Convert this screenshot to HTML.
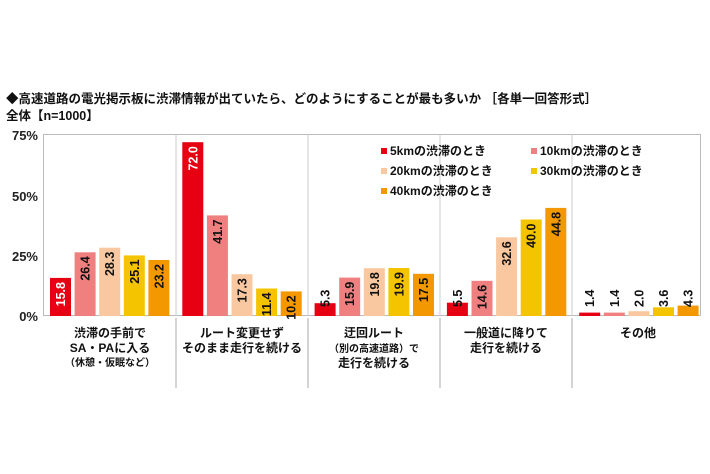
<!DOCTYPE html><html><head><meta charset="utf-8"><style>
html,body{margin:0;padding:0;background:#fff;width:710px;height:474px;overflow:hidden}
svg{font-family:"Liberation Sans","Noto Sans CJK JP",sans-serif;font-weight:bold}
</style></head><body>
<svg width="710" height="474" xmlns="http://www.w3.org/2000/svg">
<text x="6" y="103" font-size="12.5" fill="#111">◆高速道路の電光掲示板に渋滞情報が出ていたら、どのようにすることが最も多いか ［各単一回答形式］</text>
<text x="6" y="120" font-size="12.5" fill="#111">全体【n=1000】</text>
<rect x="43.5" y="134.5" width="657" height="181" fill="none" stroke="#bbb" stroke-width="1"/>
<g stroke="#ccc" stroke-width="1">
<line x1="176" y1="134" x2="176" y2="316"/><line x1="308" y1="134" x2="308" y2="316"/><line x1="440" y1="134" x2="440" y2="316"/><line x1="572" y1="134" x2="572" y2="316"/>
</g>
<g stroke="#aaa" stroke-width="1">
<line x1="176" y1="318" x2="176" y2="388"/><line x1="308" y1="318" x2="308" y2="388"/><line x1="440" y1="318" x2="440" y2="388"/><line x1="572" y1="318" x2="572" y2="388"/>
</g>
<g font-size="13" fill="#222" text-anchor="end">
<text x="38" y="140">75%</text><text x="38" y="201">50%</text><text x="38" y="261">25%</text><text x="38" y="321">0%</text>
</g>
<g>
<rect x="50" y="277.9" width="21" height="38.1" fill="#e60012"/>
<rect x="74.6" y="252.3" width="21" height="63.7" fill="#f08080"/>
<rect x="99.2" y="247.7" width="21" height="68.3" fill="#f9c8a0"/>
<rect x="123.8" y="255.4" width="21" height="60.6" fill="#f5c400"/>
<rect x="148.4" y="260" width="21" height="56" fill="#f39800"/>
<rect x="182.3" y="142.2" width="21" height="173.8" fill="#e60012"/>
<rect x="206.9" y="215.4" width="21" height="100.6" fill="#f08080"/>
<rect x="231.5" y="274.2" width="21" height="41.8" fill="#f9c8a0"/>
<rect x="256.1" y="288.5" width="21" height="27.5" fill="#f5c400"/>
<rect x="280.7" y="291.4" width="21" height="24.6" fill="#f39800"/>
<rect x="314.6" y="303.2" width="21" height="12.8" fill="#e60012"/>
<rect x="339.2" y="277.6" width="21" height="38.4" fill="#f08080"/>
<rect x="363.8" y="268.2" width="21" height="47.8" fill="#f9c8a0"/>
<rect x="388.4" y="268" width="21" height="48" fill="#f5c400"/>
<rect x="413" y="273.8" width="21" height="42.2" fill="#f39800"/>
<rect x="446.9" y="302.7" width="21" height="13.3" fill="#e60012"/>
<rect x="471.5" y="280.8" width="21" height="35.2" fill="#f08080"/>
<rect x="496.1" y="237.3" width="21" height="78.7" fill="#f9c8a0"/>
<rect x="520.7" y="219.5" width="21" height="96.5" fill="#f5c400"/>
<rect x="545.3" y="207.9" width="21" height="108.1" fill="#f39800"/>
<rect x="579.2" y="312.6" width="21" height="3.4" fill="#e60012"/>
<rect x="603.8" y="312.6" width="21" height="3.4" fill="#f08080"/>
<rect x="628.4" y="311.2" width="21" height="4.8" fill="#f9c8a0"/>
<rect x="653" y="307.3" width="21" height="8.7" fill="#f5c400"/>
<rect x="677.6" y="305.6" width="21" height="10.4" fill="#f39800"/>
</g>
<g font-size="12.5" fill="#111" text-anchor="end">
<text fill="#fff" transform="translate(65,282) rotate(-90)">15.8</text>
<text transform="translate(89.6,256.3) rotate(-90)">26.4</text>
<text transform="translate(114.2,251.7) rotate(-90)">28.3</text>
<text transform="translate(138.8,259.4) rotate(-90)">25.1</text>
<text transform="translate(163.4,264) rotate(-90)">23.2</text>
<text fill="#fff" transform="translate(197.3,146.2) rotate(-90)">72.0</text>
<text transform="translate(221.9,219.4) rotate(-90)">41.7</text>
<text transform="translate(246.5,278.2) rotate(-90)">17.3</text>
<text transform="translate(271.1,292.5) rotate(-90)">11.4</text>
<text transform="translate(295.7,295.4) rotate(-90)">10.2</text>
<text transform="translate(354.2,281.6) rotate(-90)">15.9</text>
<text transform="translate(378.8,272.2) rotate(-90)">19.8</text>
<text transform="translate(403.4,272) rotate(-90)">19.9</text>
<text transform="translate(428,277.8) rotate(-90)">17.5</text>
<text transform="translate(486.5,284.8) rotate(-90)">14.6</text>
<text transform="translate(511.1,241.3) rotate(-90)">32.6</text>
<text transform="translate(535.7,223.5) rotate(-90)">40.0</text>
<text transform="translate(560.3,211.9) rotate(-90)">44.8</text>
</g>
<g font-size="12.5" fill="#111" text-anchor="start">
<text transform="translate(329.6,307) rotate(-90)">5.3</text>
<text transform="translate(461.9,307) rotate(-90)">5.5</text>
<text transform="translate(594.2,307) rotate(-90)">1.4</text>
<text transform="translate(618.8,307) rotate(-90)">1.4</text>
<text transform="translate(643.4,307) rotate(-90)">2.0</text>
<text transform="translate(668,307) rotate(-90)">3.6</text>
<text transform="translate(692.6,307) rotate(-90)">4.3</text>
</g>
<g font-size="12" fill="#111" text-anchor="middle">
<text x="110" y="337">渋滞の手前で</text><text x="110" y="352">SA・PAに入る</text><text x="110" y="366" font-size="10">（休憩・仮眠など）</text>
<text x="242" y="337">ルート変更せず</text><text x="242" y="352">そのまま走行を続ける</text>
<text x="374" y="337">迂回ルート</text><text x="374" y="352" font-size="10">（別の高速道路）で</text><text x="374" y="367">走行を続ける</text>
<text x="506" y="337">一般道に降りて</text><text x="506" y="352">走行を続ける</text>
<text x="638" y="337">その他</text>
</g>
<g font-size="12" fill="#111">
<rect x="381" y="148" width="6" height="6" fill="#e60012"/><text x="390" y="155">5kmの渋滞のとき</text>
<rect x="531" y="148" width="6" height="6" fill="#f08080"/><text x="540" y="155">10kmの渋滞のとき</text>
<rect x="381" y="168" width="6" height="6" fill="#f9c8a0"/><text x="390" y="175">20kmの渋滞のとき</text>
<rect x="531" y="168" width="6" height="6" fill="#f5c400"/><text x="540" y="175">30kmの渋滞のとき</text>
<rect x="381" y="188" width="6" height="6" fill="#f39800"/><text x="390" y="195">40kmの渋滞のとき</text>
</g>
</svg>
</body></html>
